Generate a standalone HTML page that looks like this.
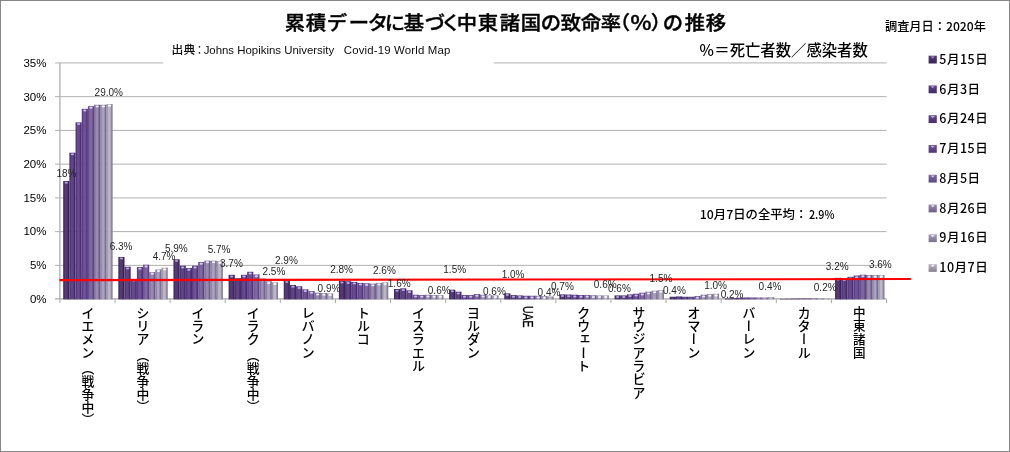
<!DOCTYPE html>
<html lang="ja"><head><meta charset="utf-8"><title>累積データに基づく中東諸国の致命率（％）の推移</title>
<style>
html,body{margin:0;padding:0;background:#fff;}
body{width:1010px;height:452px;position:relative;overflow:hidden;font-family:"Liberation Sans","Noto Sans CJK JP",sans-serif;color:#000;}
#frame{position:absolute;left:0;top:0;width:1008px;height:450px;border:1px solid #868686;}
svg{position:absolute;left:0;top:0;}
.t{position:absolute;white-space:nowrap;line-height:1;}
.jp{font-family:"Noto Sans CJK JP","Liberation Sans",sans-serif;}
.dl{font-size:10px;color:#262626;}
.yl{font-size:11.5px;color:#000;width:30px;text-align:right;left:16.5px;}
.cat{position:absolute;top:306.1px;width:20px;writing-mode:vertical-rl;text-orientation:mixed;font-kerning:none;text-spacing-trim:space-all;font-feature-settings:"vpal" 0,"vkrn" 0,"vhal" 0;font-family:"Noto Sans CJK JP","Liberation Sans",sans-serif;font-size:13.3px;font-weight:500;line-height:20px;white-space:nowrap;color:#000;}
.cat .w{font-size:12.8px;margin-top:3.2px;}
.lg{font-family:"Noto Sans CJK JP","Liberation Sans",sans-serif;font-size:12.5px;font-weight:500;left:939.3px;letter-spacing:0.5px;}
</style></head><body>
<div id="frame"></div>
<svg width="1010" height="452" viewBox="0 0 1010 452">
<defs>
<linearGradient id="g0" x1="0" x2="1" y1="0" y2="0"><stop offset="0" stop-color="#38235a"/><stop offset="0.32" stop-color="#553a74"/><stop offset="0.58" stop-color="#553a74"/><stop offset="0.86" stop-color="#38235a"/><stop offset="1" stop-color="#38235a"/></linearGradient>
<linearGradient id="m0" x1="0" x2="0" y1="0" y2="1"><stop offset="0" stop-color="#553a74"/><stop offset="1" stop-color="#38235a"/></linearGradient>
<linearGradient id="g1" x1="0" x2="1" y1="0" y2="0"><stop offset="0" stop-color="#43286a"/><stop offset="0.32" stop-color="#5e4682"/><stop offset="0.58" stop-color="#5e4682"/><stop offset="0.86" stop-color="#43286a"/><stop offset="1" stop-color="#43286a"/></linearGradient>
<linearGradient id="m1" x1="0" x2="0" y1="0" y2="1"><stop offset="0" stop-color="#5e4682"/><stop offset="1" stop-color="#43286a"/></linearGradient>
<linearGradient id="g2" x1="0" x2="1" y1="0" y2="0"><stop offset="0" stop-color="#492d70"/><stop offset="0.32" stop-color="#664a8d"/><stop offset="0.58" stop-color="#664a8d"/><stop offset="0.86" stop-color="#492d70"/><stop offset="1" stop-color="#492d70"/></linearGradient>
<linearGradient id="m2" x1="0" x2="0" y1="0" y2="1"><stop offset="0" stop-color="#664a8d"/><stop offset="1" stop-color="#492d70"/></linearGradient>
<linearGradient id="g3" x1="0" x2="1" y1="0" y2="0"><stop offset="0" stop-color="#51367a"/><stop offset="0.32" stop-color="#6f5196"/><stop offset="0.58" stop-color="#6f5196"/><stop offset="0.86" stop-color="#51367a"/><stop offset="1" stop-color="#51367a"/></linearGradient>
<linearGradient id="m3" x1="0" x2="0" y1="0" y2="1"><stop offset="0" stop-color="#6f5196"/><stop offset="1" stop-color="#51367a"/></linearGradient>
<linearGradient id="g4" x1="0" x2="1" y1="0" y2="0"><stop offset="0" stop-color="#5e4880"/><stop offset="0.32" stop-color="#8066a3"/><stop offset="0.58" stop-color="#8066a3"/><stop offset="0.86" stop-color="#5e4880"/><stop offset="1" stop-color="#5e4880"/></linearGradient>
<linearGradient id="m4" x1="0" x2="0" y1="0" y2="1"><stop offset="0" stop-color="#8066a3"/><stop offset="1" stop-color="#5e4880"/></linearGradient>
<linearGradient id="g5" x1="0" x2="1" y1="0" y2="0"><stop offset="0" stop-color="#6c5d84"/><stop offset="0.32" stop-color="#9a89b2"/><stop offset="0.58" stop-color="#9a89b2"/><stop offset="0.86" stop-color="#6c5d84"/><stop offset="1" stop-color="#6c5d84"/></linearGradient>
<linearGradient id="m5" x1="0" x2="0" y1="0" y2="1"><stop offset="0" stop-color="#9a89b2"/><stop offset="1" stop-color="#6c5d84"/></linearGradient>
<linearGradient id="g6" x1="0" x2="1" y1="0" y2="0"><stop offset="0" stop-color="#786e8e"/><stop offset="0.32" stop-color="#aba0c1"/><stop offset="0.58" stop-color="#aba0c1"/><stop offset="0.86" stop-color="#786e8e"/><stop offset="1" stop-color="#786e8e"/></linearGradient>
<linearGradient id="m6" x1="0" x2="0" y1="0" y2="1"><stop offset="0" stop-color="#aba0c1"/><stop offset="1" stop-color="#786e8e"/></linearGradient>
<linearGradient id="g7" x1="0" x2="1" y1="0" y2="0"><stop offset="0" stop-color="#848090"/><stop offset="0.32" stop-color="#bdb5ca"/><stop offset="0.58" stop-color="#bdb5ca"/><stop offset="0.86" stop-color="#848090"/><stop offset="1" stop-color="#848090"/></linearGradient>
<linearGradient id="m7" x1="0" x2="0" y1="0" y2="1"><stop offset="0" stop-color="#bdb5ca"/><stop offset="1" stop-color="#848090"/></linearGradient>
</defs>
<g stroke="#b0b0b0" stroke-width="1" fill="none">
<path d="M55 265.36H886.6"/>
<path d="M55 231.62H886.6"/>
<path d="M55 197.88H886.6"/>
<path d="M55 164.14H886.6"/>
<path d="M55 130.40H886.6"/>
<path d="M55 96.66H886.6"/>
<path d="M55 62.92H163.2M494 62.92H886.6"/>
</g>
<g stroke="#a9a9a9" stroke-width="1" fill="none"><path d="M59.9 62.92V299.6" stroke="#b4b4b4" stroke-width="1.4"/><path d="M55 298.90000000000003H886.6" stroke-width="1.4"/>
<path d="M59.90 299.1V303.1"/>
<path d="M115.01 299.1V303.1"/>
<path d="M170.11 299.1V303.1"/>
<path d="M225.22 299.1V303.1"/>
<path d="M280.33 299.1V303.1"/>
<path d="M335.43 299.1V303.1"/>
<path d="M390.54 299.1V303.1"/>
<path d="M445.65 299.1V303.1"/>
<path d="M500.76 299.1V303.1"/>
<path d="M555.86 299.1V303.1"/>
<path d="M610.97 299.1V303.1"/>
<path d="M666.08 299.1V303.1"/>
<path d="M721.18 299.1V303.1"/>
<path d="M776.29 299.1V303.1"/>
<path d="M831.40 299.1V303.1"/>
<path d="M886.50 299.1V303.1"/>
</g>
<rect x="63.20" y="181.01" width="6.18" height="118.39" fill="url(#g0)"/>
<ellipse cx="66.29" cy="182.71" rx="1.7" ry="1.0" fill="#b9a6e0" opacity="0.9"/>
<rect x="69.38" y="152.67" width="6.18" height="146.73" fill="url(#g1)"/>
<ellipse cx="72.47" cy="154.37" rx="1.7" ry="1.0" fill="#c3b0ea" opacity="0.9"/>
<rect x="75.56" y="122.30" width="6.18" height="177.10" fill="url(#g2)"/>
<ellipse cx="78.65" cy="124.00" rx="1.7" ry="1.0" fill="#cbb8f2" opacity="0.9"/>
<rect x="81.74" y="108.81" width="6.18" height="190.59" fill="url(#g3)"/>
<ellipse cx="84.83" cy="110.51" rx="1.7" ry="1.0" fill="#d3c2f6" opacity="0.9"/>
<rect x="87.92" y="106.11" width="6.18" height="193.29" fill="url(#g4)"/>
<ellipse cx="91.01" cy="107.81" rx="1.7" ry="1.0" fill="#e2d6fb" opacity="0.9"/>
<rect x="94.10" y="104.76" width="6.18" height="194.64" fill="url(#g5)"/>
<ellipse cx="97.19" cy="106.46" rx="1.7" ry="1.0" fill="#f1ecfd" opacity="0.9"/>
<rect x="100.28" y="104.76" width="6.18" height="194.64" fill="url(#g6)"/>
<ellipse cx="103.37" cy="106.46" rx="1.7" ry="1.0" fill="#f8f6fe" opacity="0.9"/>
<rect x="106.46" y="104.08" width="6.18" height="195.32" fill="url(#g7)"/>
<ellipse cx="109.55" cy="105.78" rx="1.7" ry="1.0" fill="#ffffff" opacity="0.9"/>
<rect x="118.33" y="256.93" width="6.18" height="42.48" fill="url(#g0)"/>
<ellipse cx="121.42" cy="258.62" rx="1.7" ry="1.0" fill="#b9a6e0" opacity="0.9"/>
<rect x="124.51" y="266.71" width="6.18" height="32.69" fill="url(#g1)"/>
<ellipse cx="127.60" cy="268.41" rx="1.7" ry="1.0" fill="#c3b0ea" opacity="0.9"/>
<rect x="130.69" y="278.86" width="6.18" height="20.54" fill="url(#g2)"/>
<ellipse cx="133.78" cy="280.56" rx="1.7" ry="1.0" fill="#cbb8f2" opacity="0.9"/>
<rect x="136.88" y="267.05" width="6.18" height="32.35" fill="url(#g3)"/>
<ellipse cx="139.97" cy="268.75" rx="1.7" ry="1.0" fill="#d3c2f6" opacity="0.9"/>
<rect x="143.06" y="264.69" width="6.18" height="34.71" fill="url(#g4)"/>
<ellipse cx="146.15" cy="266.39" rx="1.7" ry="1.0" fill="#e2d6fb" opacity="0.9"/>
<rect x="149.23" y="272.11" width="6.18" height="27.29" fill="url(#g5)"/>
<ellipse cx="152.32" cy="273.81" rx="1.7" ry="1.0" fill="#f1ecfd" opacity="0.9"/>
<rect x="155.41" y="269.41" width="6.18" height="29.99" fill="url(#g6)"/>
<ellipse cx="158.50" cy="271.11" rx="1.7" ry="1.0" fill="#f8f6fe" opacity="0.9"/>
<rect x="161.59" y="267.72" width="6.18" height="31.68" fill="url(#g7)"/>
<ellipse cx="164.69" cy="269.42" rx="1.7" ry="1.0" fill="#ffffff" opacity="0.9"/>
<rect x="173.47" y="259.29" width="6.18" height="40.11" fill="url(#g0)"/>
<ellipse cx="176.56" cy="260.99" rx="1.7" ry="1.0" fill="#b9a6e0" opacity="0.9"/>
<rect x="179.65" y="265.70" width="6.18" height="33.70" fill="url(#g1)"/>
<ellipse cx="182.74" cy="267.40" rx="1.7" ry="1.0" fill="#c3b0ea" opacity="0.9"/>
<rect x="185.83" y="268.06" width="6.18" height="31.34" fill="url(#g2)"/>
<ellipse cx="188.92" cy="269.76" rx="1.7" ry="1.0" fill="#cbb8f2" opacity="0.9"/>
<rect x="192.01" y="265.70" width="6.18" height="33.70" fill="url(#g3)"/>
<ellipse cx="195.10" cy="267.40" rx="1.7" ry="1.0" fill="#d3c2f6" opacity="0.9"/>
<rect x="198.19" y="261.99" width="6.18" height="37.41" fill="url(#g4)"/>
<ellipse cx="201.28" cy="263.69" rx="1.7" ry="1.0" fill="#e2d6fb" opacity="0.9"/>
<rect x="204.37" y="260.64" width="6.18" height="38.76" fill="url(#g5)"/>
<ellipse cx="207.46" cy="262.34" rx="1.7" ry="1.0" fill="#f1ecfd" opacity="0.9"/>
<rect x="210.55" y="260.64" width="6.18" height="38.76" fill="url(#g6)"/>
<ellipse cx="213.64" cy="262.34" rx="1.7" ry="1.0" fill="#f8f6fe" opacity="0.9"/>
<rect x="216.73" y="260.97" width="6.18" height="38.43" fill="url(#g7)"/>
<ellipse cx="219.82" cy="262.67" rx="1.7" ry="1.0" fill="#ffffff" opacity="0.9"/>
<rect x="228.61" y="274.81" width="6.18" height="24.59" fill="url(#g0)"/>
<ellipse cx="231.70" cy="276.51" rx="1.7" ry="1.0" fill="#b9a6e0" opacity="0.9"/>
<rect x="234.79" y="278.18" width="6.18" height="21.22" fill="url(#g1)"/>
<ellipse cx="237.88" cy="279.88" rx="1.7" ry="1.0" fill="#c3b0ea" opacity="0.9"/>
<rect x="240.97" y="274.81" width="6.18" height="24.59" fill="url(#g2)"/>
<ellipse cx="244.06" cy="276.51" rx="1.7" ry="1.0" fill="#cbb8f2" opacity="0.9"/>
<rect x="247.15" y="271.77" width="6.18" height="27.63" fill="url(#g3)"/>
<ellipse cx="250.24" cy="273.47" rx="1.7" ry="1.0" fill="#d3c2f6" opacity="0.9"/>
<rect x="253.33" y="274.47" width="6.18" height="24.93" fill="url(#g4)"/>
<ellipse cx="256.42" cy="276.17" rx="1.7" ry="1.0" fill="#e2d6fb" opacity="0.9"/>
<rect x="259.50" y="278.52" width="6.18" height="20.88" fill="url(#g5)"/>
<ellipse cx="262.59" cy="280.22" rx="1.7" ry="1.0" fill="#f1ecfd" opacity="0.9"/>
<rect x="265.69" y="281.22" width="6.18" height="18.18" fill="url(#g6)"/>
<ellipse cx="268.77" cy="282.92" rx="1.7" ry="1.0" fill="#f8f6fe" opacity="0.9"/>
<rect x="271.87" y="282.23" width="6.18" height="17.17" fill="url(#g7)"/>
<ellipse cx="274.95" cy="283.93" rx="1.7" ry="1.0" fill="#ffffff" opacity="0.9"/>
<rect x="283.74" y="280.21" width="6.18" height="19.19" fill="url(#g0)"/>
<ellipse cx="286.83" cy="281.91" rx="1.7" ry="1.0" fill="#b9a6e0" opacity="0.9"/>
<rect x="289.92" y="284.93" width="6.18" height="14.47" fill="url(#g1)"/>
<ellipse cx="293.01" cy="286.63" rx="1.7" ry="1.0" fill="#c3b0ea" opacity="0.9"/>
<rect x="296.10" y="286.28" width="6.18" height="13.12" fill="url(#g2)"/>
<ellipse cx="299.19" cy="287.98" rx="1.7" ry="1.0" fill="#cbb8f2" opacity="0.9"/>
<rect x="302.28" y="289.32" width="6.18" height="10.08" fill="url(#g3)"/>
<ellipse cx="305.37" cy="291.02" rx="1.7" ry="1.0" fill="#d3c2f6" opacity="0.9"/>
<rect x="308.46" y="291.00" width="6.18" height="8.40" fill="url(#g4)"/>
<ellipse cx="311.55" cy="292.70" rx="1.7" ry="1.0" fill="#e2d6fb" opacity="0.9"/>
<rect x="314.64" y="292.69" width="6.18" height="6.71" fill="url(#g5)"/>
<ellipse cx="317.73" cy="294.39" rx="1.7" ry="1.0" fill="#f1ecfd" opacity="0.9"/>
<rect x="320.82" y="293.03" width="6.18" height="6.37" fill="url(#g6)"/>
<ellipse cx="323.91" cy="294.73" rx="1.7" ry="1.0" fill="#f8f6fe" opacity="0.9"/>
<rect x="327.00" y="293.36" width="6.18" height="6.04" fill="url(#g7)"/>
<ellipse cx="330.09" cy="295.06" rx="1.7" ry="1.0" fill="#ffffff" opacity="0.9"/>
<rect x="338.88" y="280.88" width="6.18" height="18.52" fill="url(#g0)"/>
<ellipse cx="341.96" cy="282.58" rx="1.7" ry="1.0" fill="#b9a6e0" opacity="0.9"/>
<rect x="345.06" y="281.22" width="6.18" height="18.18" fill="url(#g1)"/>
<ellipse cx="348.14" cy="282.92" rx="1.7" ry="1.0" fill="#c3b0ea" opacity="0.9"/>
<rect x="351.24" y="281.89" width="6.18" height="17.51" fill="url(#g2)"/>
<ellipse cx="354.32" cy="283.59" rx="1.7" ry="1.0" fill="#cbb8f2" opacity="0.9"/>
<rect x="357.42" y="282.90" width="6.18" height="16.50" fill="url(#g3)"/>
<ellipse cx="360.50" cy="284.60" rx="1.7" ry="1.0" fill="#d3c2f6" opacity="0.9"/>
<rect x="363.60" y="283.24" width="6.18" height="16.16" fill="url(#g4)"/>
<ellipse cx="366.69" cy="284.94" rx="1.7" ry="1.0" fill="#e2d6fb" opacity="0.9"/>
<rect x="369.77" y="283.58" width="6.18" height="15.82" fill="url(#g5)"/>
<ellipse cx="372.86" cy="285.28" rx="1.7" ry="1.0" fill="#f1ecfd" opacity="0.9"/>
<rect x="375.95" y="282.90" width="6.18" height="16.50" fill="url(#g6)"/>
<ellipse cx="379.04" cy="284.60" rx="1.7" ry="1.0" fill="#f8f6fe" opacity="0.9"/>
<rect x="382.13" y="282.23" width="6.18" height="17.17" fill="url(#g7)"/>
<ellipse cx="385.22" cy="283.93" rx="1.7" ry="1.0" fill="#ffffff" opacity="0.9"/>
<rect x="394.01" y="288.98" width="6.18" height="10.42" fill="url(#g0)"/>
<ellipse cx="397.10" cy="290.68" rx="1.7" ry="1.0" fill="#b9a6e0" opacity="0.9"/>
<rect x="400.19" y="288.30" width="6.18" height="11.10" fill="url(#g1)"/>
<ellipse cx="403.28" cy="290.00" rx="1.7" ry="1.0" fill="#c3b0ea" opacity="0.9"/>
<rect x="406.37" y="290.33" width="6.18" height="9.07" fill="url(#g2)"/>
<ellipse cx="409.46" cy="292.03" rx="1.7" ry="1.0" fill="#cbb8f2" opacity="0.9"/>
<rect x="412.55" y="294.71" width="6.18" height="4.69" fill="url(#g3)"/>
<ellipse cx="415.64" cy="296.41" rx="1.7" ry="1.0" fill="#d3c2f6" opacity="0.9"/>
<rect x="418.73" y="295.05" width="6.18" height="4.35" fill="url(#g4)"/>
<ellipse cx="421.82" cy="296.75" rx="1.7" ry="1.0" fill="#e2d6fb" opacity="0.9"/>
<rect x="424.91" y="294.71" width="6.18" height="4.69" fill="url(#g5)"/>
<ellipse cx="428.00" cy="296.41" rx="1.7" ry="1.0" fill="#f1ecfd" opacity="0.9"/>
<rect x="431.09" y="295.05" width="6.18" height="4.35" fill="url(#g6)"/>
<ellipse cx="434.18" cy="296.75" rx="1.7" ry="1.0" fill="#f8f6fe" opacity="0.9"/>
<rect x="437.27" y="295.05" width="6.18" height="4.35" fill="url(#g7)"/>
<ellipse cx="440.36" cy="296.75" rx="1.7" ry="1.0" fill="#ffffff" opacity="0.9"/>
<rect x="449.14" y="289.65" width="6.18" height="9.75" fill="url(#g0)"/>
<ellipse cx="452.23" cy="291.35" rx="1.7" ry="1.0" fill="#b9a6e0" opacity="0.9"/>
<rect x="455.32" y="291.68" width="6.18" height="7.72" fill="url(#g1)"/>
<ellipse cx="458.41" cy="293.38" rx="1.7" ry="1.0" fill="#c3b0ea" opacity="0.9"/>
<rect x="461.50" y="295.05" width="6.18" height="4.35" fill="url(#g2)"/>
<ellipse cx="464.59" cy="296.75" rx="1.7" ry="1.0" fill="#cbb8f2" opacity="0.9"/>
<rect x="467.69" y="295.05" width="6.18" height="4.35" fill="url(#g3)"/>
<ellipse cx="470.77" cy="296.75" rx="1.7" ry="1.0" fill="#d3c2f6" opacity="0.9"/>
<rect x="473.87" y="294.04" width="6.18" height="5.36" fill="url(#g4)"/>
<ellipse cx="476.95" cy="295.74" rx="1.7" ry="1.0" fill="#e2d6fb" opacity="0.9"/>
<rect x="480.04" y="294.71" width="6.18" height="4.69" fill="url(#g5)"/>
<ellipse cx="483.13" cy="296.41" rx="1.7" ry="1.0" fill="#f1ecfd" opacity="0.9"/>
<rect x="486.22" y="295.39" width="6.18" height="4.01" fill="url(#g6)"/>
<ellipse cx="489.31" cy="297.09" rx="1.7" ry="1.0" fill="#f8f6fe" opacity="0.9"/>
<rect x="492.40" y="295.39" width="6.18" height="4.01" fill="url(#g7)"/>
<ellipse cx="495.49" cy="297.09" rx="1.7" ry="1.0" fill="#ffffff" opacity="0.9"/>
<rect x="504.28" y="293.36" width="6.18" height="6.04" fill="url(#g0)"/>
<ellipse cx="507.37" cy="295.06" rx="1.7" ry="1.0" fill="#b9a6e0" opacity="0.9"/>
<rect x="510.46" y="295.05" width="6.18" height="4.35" fill="url(#g1)"/>
<ellipse cx="513.55" cy="296.75" rx="1.7" ry="1.0" fill="#c3b0ea" opacity="0.9"/>
<rect x="516.64" y="295.39" width="6.18" height="4.01" fill="url(#g2)"/>
<ellipse cx="519.73" cy="297.09" rx="1.7" ry="1.0" fill="#cbb8f2" opacity="0.9"/>
<rect x="522.82" y="295.73" width="6.18" height="3.67" fill="url(#g3)"/>
<ellipse cx="525.91" cy="297.43" rx="1.7" ry="1.0" fill="#d3c2f6" opacity="0.9"/>
<rect x="529.00" y="295.73" width="6.18" height="3.67" fill="url(#g4)"/>
<ellipse cx="532.09" cy="297.43" rx="1.7" ry="1.0" fill="#e2d6fb" opacity="0.9"/>
<rect x="535.18" y="295.73" width="6.18" height="3.67" fill="url(#g5)"/>
<ellipse cx="538.27" cy="297.43" rx="1.7" ry="1.0" fill="#f1ecfd" opacity="0.9"/>
<rect x="541.36" y="296.06" width="6.18" height="3.34" fill="url(#g6)"/>
<ellipse cx="544.45" cy="297.76" rx="1.7" ry="1.0" fill="#f8f6fe" opacity="0.9"/>
<rect x="547.54" y="296.40" width="6.18" height="3.00" fill="url(#g7)"/>
<rect x="559.41" y="294.38" width="6.18" height="5.02" fill="url(#g0)"/>
<ellipse cx="562.50" cy="296.08" rx="1.7" ry="1.0" fill="#b9a6e0" opacity="0.9"/>
<rect x="565.59" y="294.51" width="6.18" height="4.89" fill="url(#g1)"/>
<ellipse cx="568.68" cy="296.21" rx="1.7" ry="1.0" fill="#c3b0ea" opacity="0.9"/>
<rect x="571.77" y="294.71" width="6.18" height="4.69" fill="url(#g2)"/>
<ellipse cx="574.87" cy="296.41" rx="1.7" ry="1.0" fill="#cbb8f2" opacity="0.9"/>
<rect x="577.95" y="295.05" width="6.18" height="4.35" fill="url(#g3)"/>
<ellipse cx="581.04" cy="296.75" rx="1.7" ry="1.0" fill="#d3c2f6" opacity="0.9"/>
<rect x="584.13" y="295.05" width="6.18" height="4.35" fill="url(#g4)"/>
<ellipse cx="587.23" cy="296.75" rx="1.7" ry="1.0" fill="#e2d6fb" opacity="0.9"/>
<rect x="590.31" y="295.19" width="6.18" height="4.21" fill="url(#g5)"/>
<ellipse cx="593.40" cy="296.89" rx="1.7" ry="1.0" fill="#f1ecfd" opacity="0.9"/>
<rect x="596.50" y="295.39" width="6.18" height="4.01" fill="url(#g6)"/>
<ellipse cx="599.59" cy="297.09" rx="1.7" ry="1.0" fill="#f8f6fe" opacity="0.9"/>
<rect x="602.67" y="295.39" width="6.18" height="4.01" fill="url(#g7)"/>
<ellipse cx="605.76" cy="297.09" rx="1.7" ry="1.0" fill="#ffffff" opacity="0.9"/>
<rect x="614.55" y="295.39" width="6.18" height="4.01" fill="url(#g0)"/>
<ellipse cx="617.64" cy="297.09" rx="1.7" ry="1.0" fill="#b9a6e0" opacity="0.9"/>
<rect x="620.73" y="295.39" width="6.18" height="4.01" fill="url(#g1)"/>
<ellipse cx="623.82" cy="297.09" rx="1.7" ry="1.0" fill="#c3b0ea" opacity="0.9"/>
<rect x="626.91" y="294.38" width="6.18" height="5.02" fill="url(#g2)"/>
<ellipse cx="630.00" cy="296.08" rx="1.7" ry="1.0" fill="#cbb8f2" opacity="0.9"/>
<rect x="633.09" y="293.70" width="6.18" height="5.70" fill="url(#g3)"/>
<ellipse cx="636.18" cy="295.40" rx="1.7" ry="1.0" fill="#d3c2f6" opacity="0.9"/>
<rect x="639.27" y="292.69" width="6.18" height="6.71" fill="url(#g4)"/>
<ellipse cx="642.36" cy="294.39" rx="1.7" ry="1.0" fill="#e2d6fb" opacity="0.9"/>
<rect x="645.45" y="291.68" width="6.18" height="7.72" fill="url(#g5)"/>
<ellipse cx="648.54" cy="293.38" rx="1.7" ry="1.0" fill="#f1ecfd" opacity="0.9"/>
<rect x="651.63" y="290.67" width="6.18" height="8.74" fill="url(#g6)"/>
<ellipse cx="654.72" cy="292.37" rx="1.7" ry="1.0" fill="#f8f6fe" opacity="0.9"/>
<rect x="657.81" y="289.99" width="6.18" height="9.41" fill="url(#g7)"/>
<ellipse cx="660.90" cy="291.69" rx="1.7" ry="1.0" fill="#ffffff" opacity="0.9"/>
<rect x="669.68" y="296.74" width="6.18" height="2.66" fill="url(#g0)"/>
<rect x="675.86" y="296.40" width="6.18" height="3.00" fill="url(#g1)"/>
<rect x="682.04" y="296.74" width="6.18" height="2.66" fill="url(#g2)"/>
<rect x="688.22" y="296.74" width="6.18" height="2.66" fill="url(#g3)"/>
<rect x="694.40" y="296.06" width="6.18" height="3.34" fill="url(#g4)"/>
<ellipse cx="697.50" cy="297.76" rx="1.7" ry="1.0" fill="#e2d6fb" opacity="0.9"/>
<rect x="700.58" y="294.71" width="6.18" height="4.69" fill="url(#g5)"/>
<ellipse cx="703.67" cy="296.41" rx="1.7" ry="1.0" fill="#f1ecfd" opacity="0.9"/>
<rect x="706.76" y="294.04" width="6.18" height="5.36" fill="url(#g6)"/>
<ellipse cx="709.86" cy="295.74" rx="1.7" ry="1.0" fill="#f8f6fe" opacity="0.9"/>
<rect x="712.94" y="293.70" width="6.18" height="5.70" fill="url(#g7)"/>
<ellipse cx="716.03" cy="295.40" rx="1.7" ry="1.0" fill="#ffffff" opacity="0.9"/>
<rect x="724.82" y="298.43" width="6.18" height="0.97" fill="url(#g0)"/>
<rect x="731.00" y="298.09" width="6.18" height="1.31" fill="url(#g1)"/>
<rect x="737.18" y="297.75" width="6.18" height="1.65" fill="url(#g2)"/>
<rect x="743.36" y="297.41" width="6.18" height="1.99" fill="url(#g3)"/>
<rect x="749.54" y="297.41" width="6.18" height="1.99" fill="url(#g4)"/>
<rect x="755.72" y="297.41" width="6.18" height="1.99" fill="url(#g5)"/>
<rect x="761.90" y="297.41" width="6.18" height="1.99" fill="url(#g6)"/>
<rect x="768.08" y="297.08" width="6.18" height="2.32" fill="url(#g7)"/>
<rect x="779.95" y="298.83" width="6.18" height="0.57" fill="url(#g0)"/>
<rect x="786.13" y="298.70" width="6.18" height="0.70" fill="url(#g1)"/>
<rect x="792.31" y="298.56" width="6.18" height="0.84" fill="url(#g2)"/>
<rect x="798.49" y="298.43" width="6.18" height="0.97" fill="url(#g3)"/>
<rect x="804.67" y="298.29" width="6.18" height="1.11" fill="url(#g4)"/>
<rect x="810.85" y="298.29" width="6.18" height="1.11" fill="url(#g5)"/>
<rect x="817.03" y="298.43" width="6.18" height="0.97" fill="url(#g6)"/>
<rect x="823.21" y="298.56" width="6.18" height="0.84" fill="url(#g7)"/>
<rect x="835.09" y="277.84" width="6.18" height="21.56" fill="url(#g0)"/>
<ellipse cx="838.18" cy="279.54" rx="1.7" ry="1.0" fill="#b9a6e0" opacity="0.9"/>
<rect x="841.27" y="278.18" width="6.18" height="21.22" fill="url(#g1)"/>
<ellipse cx="844.36" cy="279.88" rx="1.7" ry="1.0" fill="#c3b0ea" opacity="0.9"/>
<rect x="847.45" y="276.83" width="6.18" height="22.57" fill="url(#g2)"/>
<ellipse cx="850.54" cy="278.53" rx="1.7" ry="1.0" fill="#cbb8f2" opacity="0.9"/>
<rect x="853.63" y="275.48" width="6.18" height="23.92" fill="url(#g3)"/>
<ellipse cx="856.72" cy="277.18" rx="1.7" ry="1.0" fill="#d3c2f6" opacity="0.9"/>
<rect x="859.81" y="274.67" width="6.18" height="24.73" fill="url(#g4)"/>
<ellipse cx="862.90" cy="276.37" rx="1.7" ry="1.0" fill="#e2d6fb" opacity="0.9"/>
<rect x="865.99" y="275.01" width="6.18" height="24.39" fill="url(#g5)"/>
<ellipse cx="869.08" cy="276.71" rx="1.7" ry="1.0" fill="#f1ecfd" opacity="0.9"/>
<rect x="872.17" y="275.01" width="6.18" height="24.39" fill="url(#g6)"/>
<ellipse cx="875.26" cy="276.71" rx="1.7" ry="1.0" fill="#f8f6fe" opacity="0.9"/>
<rect x="878.35" y="275.01" width="6.18" height="24.39" fill="url(#g7)"/>
<ellipse cx="881.44" cy="276.71" rx="1.7" ry="1.0" fill="#ffffff" opacity="0.9"/>
<line x1="59.5" y1="280.1" x2="910.8" y2="279.05" stroke="#ff0000" stroke-width="2.1"/>
<rect x="928.6" y="55.70" width="8.2" height="7.8" fill="url(#m0)"/>
<path d="M930.6 56.40h4.2l-2.1 2.2z" fill="#b9a6e0" opacity="0.85"/>
<rect x="928.6" y="85.47" width="8.2" height="7.8" fill="url(#m1)"/>
<path d="M930.6 86.17h4.2l-2.1 2.2z" fill="#c3b0ea" opacity="0.85"/>
<rect x="928.6" y="115.24" width="8.2" height="7.8" fill="url(#m2)"/>
<path d="M930.6 115.94h4.2l-2.1 2.2z" fill="#cbb8f2" opacity="0.85"/>
<rect x="928.6" y="145.01" width="8.2" height="7.8" fill="url(#m3)"/>
<path d="M930.6 145.71h4.2l-2.1 2.2z" fill="#d3c2f6" opacity="0.85"/>
<rect x="928.6" y="174.78" width="8.2" height="7.8" fill="url(#m4)"/>
<path d="M930.6 175.48h4.2l-2.1 2.2z" fill="#e2d6fb" opacity="0.85"/>
<rect x="928.6" y="204.55" width="8.2" height="7.8" fill="url(#m5)"/>
<path d="M930.6 205.25h4.2l-2.1 2.2z" fill="#f1ecfd" opacity="0.85"/>
<rect x="928.6" y="234.32" width="8.2" height="7.8" fill="url(#m6)"/>
<path d="M930.6 235.02h4.2l-2.1 2.2z" fill="#f8f6fe" opacity="0.85"/>
<rect x="928.6" y="264.09" width="8.2" height="7.8" fill="url(#m7)"/>
<path d="M930.6 264.79h4.2l-2.1 2.2z" fill="#ffffff" opacity="0.85"/>
</svg>
<div class="jp" id="title" style="position:absolute;left:0;top:11.6px;height:19px;font-size:19px;font-weight:500;-webkit-text-stroke:0.4px #000;line-height:1;white-space:nowrap;"><span style="position:absolute;top:0;left:280.05px;width:30px;text-align:center;transform:scaleX(1.07)">累</span><span style="position:absolute;top:0;left:301.40px;width:30px;text-align:center;transform:scaleX(1.07)">積</span><span style="position:absolute;top:0;left:322.40px;width:30px;text-align:center;transform:scaleX(1.07)">デ</span><span style="position:absolute;top:0;left:344.20px;width:30px;text-align:center;transform:scaleX(1.07)">ー</span><span style="position:absolute;top:0;left:363.15px;width:30px;text-align:center;transform:scaleX(1.07)">タ</span><span style="position:absolute;top:0;left:379.85px;width:30px;text-align:center;transform:scaleX(1.07)">に</span><span style="position:absolute;top:0;left:398.50px;width:30px;text-align:center;transform:scaleX(1.07)">基</span><span style="position:absolute;top:0;left:420.45px;width:30px;text-align:center;transform:scaleX(1.07)">づ</span><span style="position:absolute;top:0;left:435.85px;width:30px;text-align:center;transform:scaleX(1.07)">く</span><span style="position:absolute;top:0;left:451.75px;width:30px;text-align:center;transform:scaleX(1.07)">中</span><span style="position:absolute;top:0;left:473.10px;width:30px;text-align:center;transform:scaleX(1.07)">東</span><span style="position:absolute;top:0;left:494.50px;width:30px;text-align:center;transform:scaleX(1.07)">諸</span><span style="position:absolute;top:0;left:515.50px;width:30px;text-align:center;transform:scaleX(1.07)">国</span><span style="position:absolute;top:0;left:535.70px;width:30px;text-align:center;transform:scaleX(1.07)">の</span><span style="position:absolute;top:0;left:556.10px;width:30px;text-align:center;transform:scaleX(1.07)">致</span><span style="position:absolute;top:0;left:575.90px;width:30px;text-align:center;transform:scaleX(1.07)">命</span><span style="position:absolute;top:0;left:596.00px;width:30px;text-align:center;transform:scaleX(1.07)">率</span><span style="position:absolute;top:0;left:605.00px;width:30px;text-align:center;transform:scaleX(1.07)">（</span><span style="position:absolute;top:0;left:625.70px;width:30px;text-align:center;transform:scaleX(1.18)">％</span><span style="position:absolute;top:0;left:646.00px;width:30px;text-align:center;transform:scaleX(1.07)">）</span><span style="position:absolute;top:0;left:657.80px;width:30px;text-align:center;transform:scaleX(1.07)">の</span><span style="position:absolute;top:0;left:680.40px;width:30px;text-align:center;transform:scaleX(1.07)">推</span><span style="position:absolute;top:0;left:701.20px;width:30px;text-align:center;transform:scaleX(1.07)">移</span></div>
<div class="t" id="sub" style="left:171.6px;top:43.2px;font-size:11.42px;color:#0c0c0c;"><span class="jp" style="font-size:11.8px;font-weight:500">出典</span><span class="jp" style="margin:0 -1.6px 0 -1.4px">：</span>Johns Hopikins University<span style="margin-left:9.6px;letter-spacing:0.16px">Covid-19 World Map</span></div>
<div class="t jp" id="date" style="left:885px;top:19.6px;font-size:12.2px;font-weight:500;">調査月日：2020年</div>
<div class="t jp" id="formula" style="left:699px;top:42px;font-size:15.35px;font-weight:500;">％＝死亡者数／感染者数</div>
<div class="t jp" id="avg" style="left:699.8px;top:208.4px;font-size:12.35px;font-weight:500;">10月7日の全平均：<span style="display:inline-block;margin-left:1.2px;transform:scaleX(0.87);transform-origin:0 50%;">2.9%</span></div>
<div class="t yl" style="top:293.9px">0%</div>
<div class="t yl" style="top:260.2px">5%</div>
<div class="t yl" style="top:226.4px">10%</div>
<div class="t yl" style="top:192.7px">15%</div>
<div class="t yl" style="top:158.9px">20%</div>
<div class="t yl" style="top:125.2px">25%</div>
<div class="t yl" style="top:91.5px">30%</div>
<div class="t yl" style="top:57.7px">35%</div>
<div class="t dl" style="left:56.4px;top:168.7px">18%</div>
<div class="t dl" style="left:94.6px;top:88.4px">29.0%</div>
<div class="t dl" style="left:109.7px;top:241.8px">6.3%</div>
<div class="t dl" style="left:152.7px;top:252.2px">4.7%</div>
<div class="t dl" style="left:164.9px;top:244.0px">5.9%</div>
<div class="t dl" style="left:207.7px;top:245.2px">5.7%</div>
<div class="t dl" style="left:220.0px;top:258.7px">3.7%</div>
<div class="t dl" style="left:262.5px;top:267.1px">2.5%</div>
<div class="t dl" style="left:275.0px;top:256.1px">2.9%</div>
<div class="t dl" style="left:317.6px;top:283.9px">0.9%</div>
<div class="t dl" style="left:330.2px;top:265.4px">2.8%</div>
<div class="t dl" style="left:373.0px;top:266.4px">2.6%</div>
<div class="t dl" style="left:387.8px;top:279.0px">1.6%</div>
<div class="t dl" style="left:427.8px;top:285.7px">0.6%</div>
<div class="t dl" style="left:443.3px;top:265.4px">1.5%</div>
<div class="t dl" style="left:483.0px;top:287.0px">0.6%</div>
<div class="t dl" style="left:501.7px;top:270.4px">1.0%</div>
<div class="t dl" style="left:537.6px;top:287.7px">0.4%</div>
<div class="t dl" style="left:551.0px;top:282.4px">0.7%</div>
<div class="t dl" style="left:593.8px;top:280.4px">0.6%</div>
<div class="t dl" style="left:608.0px;top:284.3px">0.6%</div>
<div class="t dl" style="left:649.6px;top:273.7px">1.5%</div>
<div class="t dl" style="left:663.0px;top:285.7px">0.4%</div>
<div class="t dl" style="left:704.2px;top:281.0px">1.0%</div>
<div class="t dl" style="left:720.7px;top:289.7px">0.2%</div>
<div class="t dl" style="left:758.6px;top:281.7px">0.4%</div>
<div class="t dl" style="left:813.8px;top:283.0px">0.2%</div>
<div class="t dl" style="left:825.8px;top:262.4px">3.2%</div>
<div class="t dl" style="left:868.9px;top:259.8px">3.6%</div>
<div class="cat" style="left:77.3px"><span>イエメン</span><span class="w">（戦争中）</span></div>
<div class="cat" style="left:132.4px"><span>シリア</span><span class="w">（戦争中）</span></div>
<div class="cat" style="left:187.5px"><span>イラン</span></div>
<div class="cat" style="left:242.6px"><span>イラク</span><span class="w">（戦争中）</span></div>
<div class="cat" style="left:297.7px"><span>レバノン</span></div>
<div class="cat" style="left:352.8px"><span>トルコ</span></div>
<div class="cat" style="left:407.9px"><span>イスラエル</span></div>
<div class="cat" style="left:463.0px"><span>ヨルダン</span></div>
<div class="t" id="uae" style="left:528.1px;top:305.9px;font-size:14.2px;transform-origin:0 0;transform:translate(7.4px,0) rotate(90deg) scale(0.735,1);-webkit-text-stroke:0.3px #000;">UAE</div>
<div class="cat" style="left:573.2px"><span>クウェート</span></div>
<div class="cat" style="left:628.3px"><span>サウジアラビア</span></div>
<div class="cat" style="left:683.4px"><span>オマーン</span></div>
<div class="cat" style="left:738.5px"><span>バーレン</span></div>
<div class="cat" style="left:793.6px"><span>カタール</span></div>
<div class="cat" style="left:848.8px"><span style="font-size:12.6px;letter-spacing:0.7px">中東諸国</span></div>
<div class="t lg" style="top:52.7px">5月15日</div>
<div class="t lg" style="top:82.5px">6月3日</div>
<div class="t lg" style="top:112.2px">6月24日</div>
<div class="t lg" style="top:142.0px">7月15日</div>
<div class="t lg" style="top:171.8px">8月5日</div>
<div class="t lg" style="top:201.5px">8月26日</div>
<div class="t lg" style="top:231.3px">9月16日</div>
<div class="t lg" style="top:261.1px">10月7日</div>
</body></html>
